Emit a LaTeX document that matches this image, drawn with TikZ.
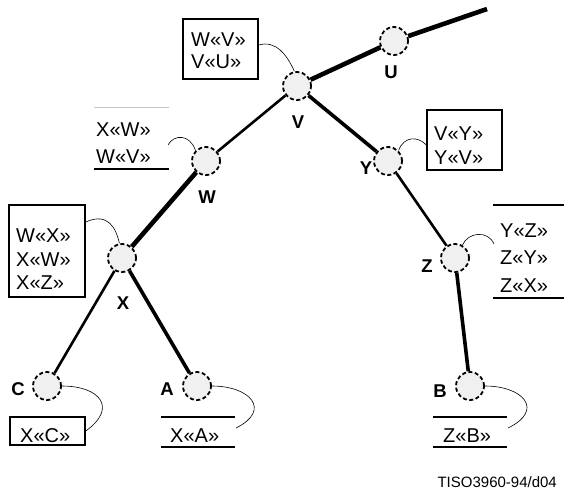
\documentclass[tikz,border=0pt]{standalone}
\usepackage{fontspec}
\setmainfont{Liberation Sans}
\usetikzlibrary{backgrounds}
\begin{document}
\begin{tikzpicture}[x=1pt,y=-1pt,
  site/.style={circle, draw, fill=gray!12, minimum size=28pt, inner sep=0pt,
               line width=1.8pt, dash pattern=on 4pt off 2.5pt},
  tag/.style={font=\fontsize{18.5}{18.5}\selectfont\bfseries, inner sep=0pt},
  txt/.style={align=left, anchor=west, inner sep=0pt},
  frame/.style={draw, line width=1.4pt, inner sep=0pt},
  rule/.style={line width=1.8pt},
  link/.style={line width=0.6pt},
  thin edge/.style={line width=2.6pt},
  mid edge/.style={line width=3.6pt},
  thick edge/.style={line width=4.6pt},
]
\useasboundingbox (0,0) rectangle (564,492);

% tree sites
\node[site] (U) at (394,41) {};
\node[site] (V) at (297,86) {};
\node[site] (W) at (206,161) {};
\node[site] (Y) at (388,161) {};
\node[site] (X) at (122,258) {};
\node[site] (Z) at (455,258) {};
\node[site] (C) at (47,386) {};
\node[site] (A) at (197,386) {};
\node[site] (B) at (470,386) {};
\coordinate (top) at (487,9);

% site names
\node[tag] (nU) at (391,72) {U};
\node[tag] (nV) at (298,122) {V};
\node[tag] (nW) at (207,197) {W};
\node[tag] (nY) at (366,168) {Y};
\node[tag] (nZ) at (427,266) {Z};
\node[tag] (nX) at (123,303) {X};
\node[tag] (nC) at (18,389) {C};
\node[tag] (nA) at (167,389) {A};
\node[tag] (nB) at (440,391) {B};

% links between sites
\begin{scope}[on background layer]
  \draw[thick edge] (V) -- (U);
  \draw[thick edge] (U) -- (top);
  \draw[thin edge] (V) -- (W);
  \draw[mid edge] (V) -- (Y);
  \draw[thick edge] (W) -- (X);
  \draw[thin edge] (X) -- (C);
  \draw[mid edge] (X) -- (A);
  \draw[thin edge] (Y) -- (Z);
  \draw[mid edge] (Z) -- (B);
\end{scope}

% framed order lists
\node[frame, minimum width=75pt, minimum height=60pt] (fVU) at (220.5,49) {};
\node[txt, font=\fontsize{20}{22}\selectfont] (tVU) at (191,51) {W«V»\\V«U»};

\node[frame, minimum width=75pt, minimum height=60pt] (fY) at (464.5,140) {};
\node[txt, font=\fontsize{20}{24}\selectfont] (tY) at (434,146) {V«Y»\\Y«V»};

\node[frame, minimum width=76pt, minimum height=92pt] (fX) at (47,251) {};
\node[txt, font=\fontsize{20}{23.5}\selectfont] (tX) at (16,259.5) {W«X»\\X«W»\\X«Z»};

\node[frame, minimum width=75pt, minimum height=28pt] (fC) at (47.5,431) {};
\node[txt, font=\fontsize{20}{20}\selectfont] (tC) at (20,436) {X«C»};

% ruled order lists
\node[txt, font=\fontsize{20}{27}\selectfont] (tW) at (96,143.5) {X«W»\\W«V»};
\draw[line width=1pt, gray!45] (94,108) -- (169,108);
\draw[rule] (94,169) -- (169,169);

\node[txt, font=\fontsize{20}{27.5}\selectfont] (tZ) at (500,258) {Y«Z»\\Z«Y»\\Z«X»};
\draw[rule] (493,205) -- (564,205);
\draw[rule] (493,298) -- (564,298);

\node[txt, font=\fontsize{20}{20}\selectfont] (tA) at (170,436) {X«A»};
\draw[rule] (161,417) -- (235,417);
\draw[rule] (161,447) -- (235,447);

\node[txt, font=\fontsize{20}{20}\selectfont] (tB) at (443,436) {Z«B»};
\draw[rule] (433,417) -- (507,417);
\draw[rule] (433,447) -- (507,447);

% leader curves from lists to sites
\coordinate (sW) at (168,145);
\coordinate (sZ) at (494,244);
\coordinate (sA) at (236,428);
\coordinate (sB) at (508,428);
\draw[link] ([yshift=4pt]fVU.east) .. controls (276,40) and (287,55) .. (V.100);
\draw[link] (sW) .. controls (174,134) and (190,134) .. (W.135);
\draw[link] ([yshift=-5pt]fY.west) .. controls (418,136) and (404,136) .. (Y.45);
\draw[link] (Z.60) .. controls (468,232) and (488,230) .. (sZ);
\draw[link] ([yshift=29pt]fX.east) .. controls (108,212) and (116,228) .. (X.100);
\draw[link] (C.east) .. controls (100,386) and (118,408) .. (fC.east);
\draw[link] (A.east) .. controls (250,386) and (272,410) .. (sA);
\draw[link] (B.east) .. controls (523,386) and (545,410) .. (sB);

% drawing reference
\node[anchor=east, inner sep=0pt, font=\fontsize{15}{15}\selectfont] (ref) at (557,482) {TISO3960-94/d04};
\end{tikzpicture}
\end{document}
